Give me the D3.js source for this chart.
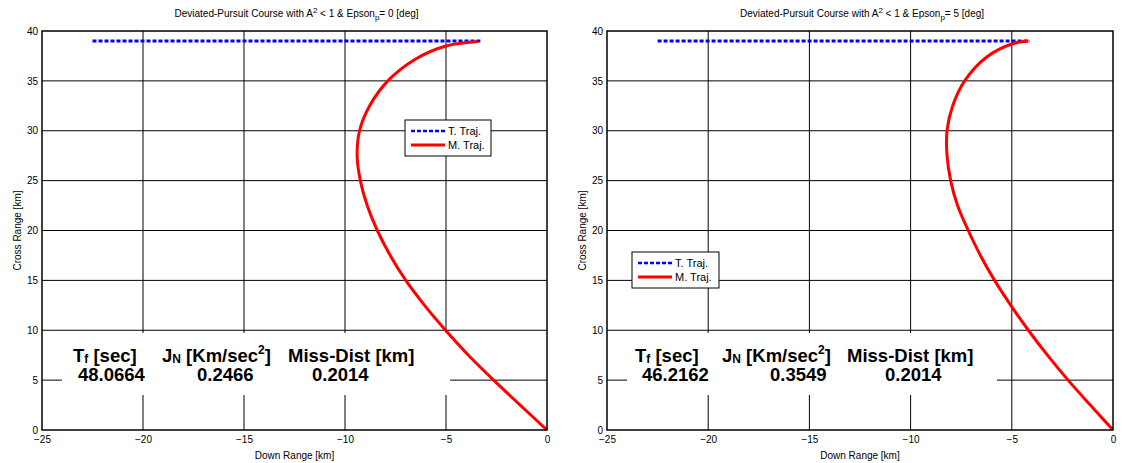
<!DOCTYPE html>
<html lang="en">
<head>
<meta charset="UTF-8">
<title>Deviated-Pursuit Course</title>
<style>
    body { margin: 0; background: #fff; }
    svg text { font-family: "Liberation Sans", Arial, sans-serif; }
</style>
</head>
<body>
<svg id="chart" width="1122" height="463"></svg>
<script src="https://cdn.jsdelivr.net/npm/d3@7"></script>
<script>
// axis ticks
const downTicks = [-25, -20, -15, -10, -5, 0];
const crossTicks = [0, 5, 10, 15, 20, 25, 30, 35, 40];

// epson_p = 0 deg
const missX0 = [0, -1.33, -2.64, -3.89, -5.02, -6.06, -6.99, -7.76, -8.4, -8.9, -9.24, -9.4, -9.28, -8.78, -7.88, -6.5, -5.0, -3.45];
const missY0 = [0, 2.5, 5, 7.5, 10, 12.5, 15, 17.5, 20, 22.5, 25, 27.5, 30, 32.5, 35, 37.2, 38.5, 38.95];
const targX0 = [-22.5, -3.3];
const targY0 = [39, 39];
const results0 = ["48.0664", "0.2466", "0.2014"];

// epson_p = 5 deg
const missX5 = [0, -1.12, -2.22, -3.24, -4.18, -5.05, -5.85, -6.55, -7.15, -7.68, -8.02, -8.2, -8.2, -7.92, -7.33, -6.24, -5.0, -4.18];
const missY5 = [0, 2.5, 5, 7.5, 10, 12.5, 15, 17.5, 20, 22.5, 25, 27.5, 30, 32.5, 35, 37.4, 38.7, 39.0];
const targX5 = [-22.5, -4.1];
const targY5 = [39, 39];
const results5 = ["46.2162", "0.3549", "0.2014"];

const legendLabels = ["T. Traj.", "M. Traj."];

const svg = d3.select("#chart");

function drawPanel(cfg) {
    const g = svg.append("g").attr("transform", "translate(" + cfg.left + "," + cfg.top + ")");
    const w = cfg.width, h = cfg.height;

    const x = d3.scaleLinear().domain([-25, 0]).range([0, w]);
    const y = d3.scaleLinear().domain([0, 40]).range([h, 0]);

    // grid
    g.append("g").selectAll("line").data(downTicks.slice(1, -1)).join("line")
        .attr("x1", d => x(d)).attr("x2", d => x(d))
        .attr("y1", 0).attr("y2", h)
        .attr("stroke", "#000").attr("stroke-width", 1);
    g.append("g").selectAll("line").data(crossTicks.slice(1, -1)).join("line")
        .attr("x1", 0).attr("x2", w)
        .attr("y1", d => y(d)).attr("y2", d => y(d))
        .attr("stroke", "#000").attr("stroke-width", 1);

    // white text block covers the grid
    g.append("rect")
        .attr("x", cfg.box[0]).attr("y", cfg.box[1])
        .attr("width", cfg.box[2]).attr("height", cfg.box[3])
        .attr("fill", "#fff");

    const line = d3.line().x(d => x(d[0])).y(d => y(d[1]));

    // target
    g.append("path")
        .datum(d3.zip(cfg.tx, cfg.ty))
        .attr("d", line)
        .attr("fill", "none")
        .attr("stroke", "#0000ff")
        .attr("stroke-width", 3)
        .attr("stroke-dasharray", "4,2");

    // missile
    g.append("path")
        .datum(d3.zip(cfg.mx, cfg.my))
        .attr("d", line.curve(d3.curveCatmullRom))
        .attr("fill", "none")
        .attr("stroke", "#ff0000")
        .attr("stroke-width", 3);

    // axes
    g.append("g").attr("transform", "translate(0," + h + ")")
        .call(d3.axisBottom(x).tickValues(downTicks).tickSize(0).tickPadding(6))
        .call(a => a.select(".domain").remove())
        .selectAll("text").attr("font-size", 10).attr("fill", "#000")
        .style("font-family", "Liberation Sans, Arial, sans-serif");
    g.append("g")
        .call(d3.axisLeft(y).tickValues(crossTicks).tickSize(0).tickPadding(4))
        .call(a => a.select(".domain").remove())
        .selectAll("text").attr("font-size", 10).attr("fill", "#000")
        .style("font-family", "Liberation Sans, Arial, sans-serif");

    g.append("rect")
        .attr("width", w).attr("height", h)
        .attr("fill", "none").attr("stroke", "#000").attr("stroke-width", 1.5);

    // title
    const title = g.append("text")
        .attr("x", w / 2 + 2).attr("y", -14)
        .attr("text-anchor", "middle").attr("font-size", 10);
    title.append("tspan").text("Deviated-Pursuit Course with A");
    title.append("tspan").attr("font-size", 8).attr("dy", -4).text("2");
    title.append("tspan").attr("dy", 4).text(" < 1 & Epson");
    title.append("tspan").attr("font-size", 8).attr("dy", 3).text("p");
    title.append("tspan").attr("dy", -3).text("= " + cfg.eps + " [deg]");

    g.append("text")
        .attr("x", w / 2).attr("y", h + 29)
        .attr("text-anchor", "middle").attr("font-size", 10)
        .text("Down Range [km]");
    g.append("text")
        .attr("transform", "translate(-21," + (h / 2) + ") rotate(-90)")
        .attr("text-anchor", "middle").attr("font-size", 10)
        .text("Cross Range [km]");

    // legend
    const lg = g.append("g").attr("transform", "translate(" + cfg.legend[0] + "," + cfg.legend[1] + ")");
    lg.append("rect").attr("width", cfg.legend[2]).attr("height", 36)
        .attr("fill", "#fff").attr("stroke", "#000").attr("stroke-width", 1);
    legendLabels.forEach((lab, i) => {
        const ly = 11 + i * 14;
        lg.append("line").attr("x1", 6).attr("x2", 40).attr("y1", ly).attr("y2", ly)
            .attr("stroke", i === 0 ? "#0000ff" : "#ff0000")
            .attr("stroke-width", i === 0 ? 2.5 : 3)
            .attr("stroke-dasharray", i === 0 ? "4,2" : null);
        lg.append("text").attr("x", 43).attr("y", ly + 4)
            .attr("font-size", 11).text(lab);
    });

    // results text
    const tb = g.append("g").attr("font-weight", "bold").attr("font-size", 18.5);
    const r1 = cfg.textY, r2 = cfg.textY + 19;
    const t1 = tb.append("text").attr("x", cfg.cols[0]).attr("y", r1);
    t1.append("tspan").text("T");
    t1.append("tspan").attr("font-size", 12).attr("dy", 1).text("f");
    t1.append("tspan").attr("dy", -1).text(" [sec]");
    const t2 = tb.append("text").attr("x", cfg.cols[1]).attr("y", r1);
    t2.append("tspan").text("J");
    t2.append("tspan").attr("font-size", 12).attr("dy", 1).text("N");
    t2.append("tspan").attr("dy", -1).text(" [Km/sec");
    t2.append("tspan").attr("font-size", 12).attr("dy", -8).text("2");
    t2.append("tspan").attr("dy", 8).text("]");
    tb.append("text").attr("x", cfg.cols[2]).attr("y", r1).text("Miss-Dist [km]");
    cfg.results.forEach((v, i) => {
        tb.append("text").attr("x", cfg.vals[i]).attr("y", r2).text(v);
    });
}

drawPanel({
    left: 42, top: 31, width: 505, height: 399, eps: 0,
    mx: missX0, my: missY0, tx: targX0, ty: targY0, results: results0,
    box: [20, 302, 388, 62],
    legend: [363, 89, 86],
    textY: 331, cols: [31, 120, 246], vals: [36, 155, 270]
});

drawPanel({
    left: 607, top: 31, width: 506, height: 399, eps: 5,
    mx: missX5, my: missY5, tx: targX5, ty: targY5, results: results5,
    box: [20, 302, 370, 62],
    legend: [25, 221, 87],
    textY: 331, cols: [28, 115, 240], vals: [35, 163, 278]
});
</script>
</body>
</html>
